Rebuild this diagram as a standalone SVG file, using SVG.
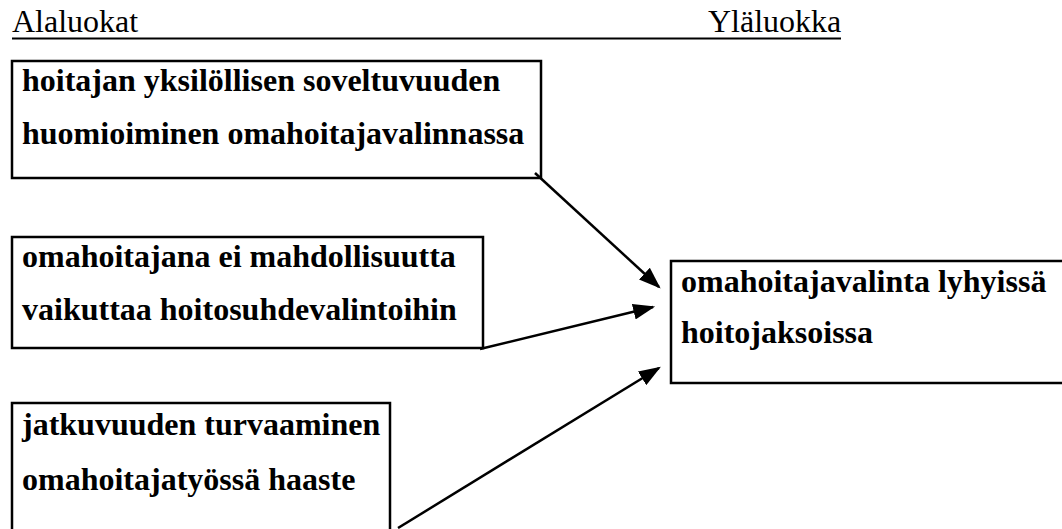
<svg xmlns="http://www.w3.org/2000/svg" width="1062" height="529" viewBox="0 0 1062 529">
  <style>
    .box { fill: #fff; stroke: #000; stroke-width: 2.5; }
    .conn { stroke: #000; stroke-width: 2.5; fill: none; }
  </style>
  <defs>
    <marker id="arrow" viewBox="0 0 10 10" refX="9" refY="5" markerUnits="userSpaceOnUse" markerWidth="22" markerHeight="16" orient="auto" preserveAspectRatio="none">
      <path d="M0,0 L10,5 L0,10 z" fill="#000"/>
    </marker>
  </defs>
  <rect width="1062" height="529" fill="#fff"/>

  <!-- column headings with a shared underline -->
  <g id="headings" font-family="'Liberation Serif', 'Times New Roman', serif" font-size="32" fill="#000">
    <text x="12" y="32">Alaluokat</text>
    <text x="708" y="32">Yläluokka</text>
    <line x1="12" y1="38.5" x2="841" y2="38.5" stroke="#000" stroke-width="2"/>
  </g>

  <g font-family="'Liberation Serif', 'Times New Roman', serif" font-size="32" font-weight="bold" fill="#000">
    <g id="node-soveltuvuus">
      <rect class="box" x="12" y="61" width="529" height="117"/>
      <text x="22" y="91">hoitajan yksilöllisen soveltuvuuden</text>
      <text x="22" y="144">huomioiminen omahoitajavalinnassa</text>
    </g>

    <g id="node-hoitosuhde">
      <rect class="box" x="12" y="237" width="471" height="111"/>
      <text x="22" y="267">omahoitajana ei mahdollisuutta</text>
      <text x="22" y="320">vaikuttaa hoitosuhdevalintoihin</text>
    </g>

    <g id="node-jatkuvuus">
      <rect class="box" x="12" y="403" width="378" height="140"/>
      <text x="22" y="435">jatkuvuuden turvaaminen</text>
      <text x="22" y="490">omahoitajatyössä haaste</text>
    </g>

    <g id="node-omahoitajavalinta">
      <rect class="box" x="671" y="261" width="400" height="122"/>
      <text x="681" y="292">omahoitajavalinta lyhyissä</text>
      <text x="681" y="343">hoitojaksoissa</text>
    </g>
  </g>

  <g id="connectors">
    <line class="conn" x1="535" y1="173" x2="659" y2="287" marker-end="url(#arrow)"/>
    <line class="conn" x1="480" y1="349" x2="653" y2="307" marker-end="url(#arrow)"/>
    <line class="conn" x1="398" y1="528" x2="659" y2="368" marker-end="url(#arrow)"/>
  </g>
</svg>
